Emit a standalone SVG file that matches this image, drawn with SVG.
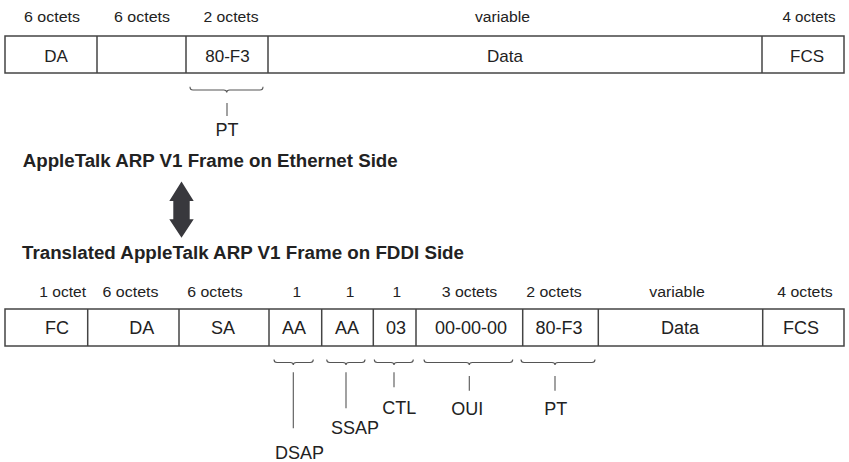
<svg xmlns="http://www.w3.org/2000/svg" width="849" height="462" viewBox="0 0 849 462">
<style>
text{font-family:"Liberation Sans",Arial,sans-serif;fill:#222;text-anchor:middle}
.hd{font-size:15.5px}
.lb{font-size:18px}
.lt{font-size:17px}
.sub{font-size:18px}
.title{font-size:18px;font-weight:bold;text-anchor:start}
.box{fill:#fff;stroke:#444;stroke-width:1.5}
.div{stroke:#444;stroke-width:1.5}
.brace{fill:none;stroke:#555;stroke-width:1.1}
.lead{stroke:#555;stroke-width:1.1}
</style>
<rect width="849" height="462" fill="#fff"/>

<g id="ethernet-frame">
  <rect class="box" x="5" y="36" width="839" height="37"/>
  <line class="div" x1="97" y1="36" x2="97" y2="73"/>
  <line class="div" x1="186" y1="36" x2="186" y2="73"/>
  <line class="div" x1="268" y1="36" x2="268" y2="73"/>
  <line class="div" x1="762" y1="36" x2="762" y2="73"/>
  <text class="hd" x="52" y="22" textLength="56" lengthAdjust="spacingAndGlyphs">6 octets</text>
  <text class="hd" x="142" y="22" textLength="56" lengthAdjust="spacingAndGlyphs">6 octets</text>
  <text class="hd" x="231" y="22" textLength="55" lengthAdjust="spacingAndGlyphs">2 octets</text>
  <text class="hd" x="502.5" y="22" textLength="55" lengthAdjust="spacingAndGlyphs">variable</text>
  <text class="hd" x="809" y="22" textLength="53" lengthAdjust="spacingAndGlyphs">4 octets</text>
  <text class="lt" x="56" y="62">DA</text>
  <text class="lt" x="227.5" y="62">80-F3</text>
  <text class="lt" x="505" y="62">Data</text>
  <text class="lt" x="807" y="62">FCS</text>
</g>

<g id="eth-pt">
  <path class="brace" d="M190,86.7 Q190,90 193,90 L223.7,90 Q226.7,90 226.7,92.5 Q226.7,90 229.7,90 L260,90 Q263,90 263,86.7"/>
  <line class="lead" x1="227" y1="103" x2="227" y2="116"/>
  <text class="sub" x="227" y="136">PT</text>
</g>

<g id="title-ethernet">
  <text class="title" x="22.7" y="167" textLength="375" lengthAdjust="spacingAndGlyphs">AppleTalk ARP V1 Frame on Ethernet Side</text>
</g>

<g id="arrow">
  <polygon fill="#38383d" points="181.5,181.5 193.7,201 189.7,201 189.7,219.3 193.7,219.3 181.5,237.7 169.3,219.3 173.3,219.3 173.3,201 169.3,201"/>
</g>

<g id="title-fddi">
  <text class="title" x="22" y="259" textLength="442" lengthAdjust="spacingAndGlyphs">Translated AppleTalk ARP V1 Frame on FDDI Side</text>
</g>

<g id="fddi-frame">
  <rect class="box" x="5" y="309" width="839" height="37"/>
  <line class="div" x1="87.7" y1="309" x2="87.7" y2="346"/>
  <line class="div" x1="179" y1="309" x2="179" y2="346"/>
  <line class="div" x1="269" y1="309" x2="269" y2="346"/>
  <line class="div" x1="321.7" y1="309" x2="321.7" y2="346"/>
  <line class="div" x1="373.3" y1="309" x2="373.3" y2="346"/>
  <line class="div" x1="416" y1="309" x2="416" y2="346"/>
  <line class="div" x1="522.7" y1="309" x2="522.7" y2="346"/>
  <line class="div" x1="598.3" y1="309" x2="598.3" y2="346"/>
  <line class="div" x1="762.7" y1="309" x2="762.7" y2="346"/>
  <text class="hd" x="62.7" y="297" textLength="46.7" lengthAdjust="spacingAndGlyphs">1 octet</text>
  <text class="hd" x="130.5" y="297" textLength="56" lengthAdjust="spacingAndGlyphs">6 octets</text>
  <text class="hd" x="215" y="297" textLength="55.5" lengthAdjust="spacingAndGlyphs">6 octets</text>
  <text class="hd" x="296.7" y="297">1</text>
  <text class="hd" x="350" y="297">1</text>
  <text class="hd" x="396.7" y="297">1</text>
  <text class="hd" x="469.5" y="297" textLength="55.6" lengthAdjust="spacingAndGlyphs">3 octets</text>
  <text class="hd" x="554" y="297" textLength="55.6" lengthAdjust="spacingAndGlyphs">2 octets</text>
  <text class="hd" x="677" y="297" textLength="55.6" lengthAdjust="spacingAndGlyphs">variable</text>
  <text class="hd" x="805" y="297" textLength="55.4" lengthAdjust="spacingAndGlyphs">4 octets</text>
  <text class="lb" x="57" y="334">FC</text>
  <text class="lb" x="141.7" y="334">DA</text>
  <text class="lb" x="223" y="334">SA</text>
  <text class="lb" x="294" y="334">AA</text>
  <text class="lb" x="347" y="334">AA</text>
  <text class="lb" x="396" y="334">03</text>
  <text class="lb" x="471" y="334">00-00-00</text>
  <text class="lb" x="559" y="334">80-F3</text>
  <text class="lb" x="680" y="334">Data</text>
  <text class="lb" x="801" y="334">FCS</text>
</g>

<g id="connectors">
  <path class="brace" d="M274,359.5 Q274,362.5 277,362.5 L290.3,362.5 Q293.3,362.5 293.3,365 Q293.3,362.5 296.3,362.5 L310.3,362.5 Q313.3,362.5 313.3,359.5"/>
  <path class="brace" d="M326.7,359.5 Q326.7,362.5 329.7,362.5 L343,362.5 Q346,362.5 346,365 Q346,362.5 349,362.5 L362,362.5 Q365,362.5 365,359.5"/>
  <path class="brace" d="M374.3,359.5 Q374.3,362.5 377.3,362.5 L391,362.5 Q394,362.5 394,365 Q394,362.5 397,362.5 L410.3,362.5 Q413.3,362.5 413.3,359.5"/>
  <path class="brace" d="M424,359.5 Q424,362.5 427,362.5 L466.3,362.5 Q469.3,362.5 469.3,365 Q469.3,362.5 472.3,362.5 L509.7,362.5 Q512.7,362.5 512.7,359.5"/>
  <path class="brace" d="M521,359.5 Q521,362.5 524,362.5 L552,362.5 Q555,362.5 555,365 Q555,362.5 558,362.5 L592,362.5 Q595,362.5 595,359.5"/>
  <line class="lead" x1="293.3" y1="372.3" x2="293.3" y2="428.3"/>
  <line class="lead" x1="346" y1="372.3" x2="346" y2="408.3"/>
  <line class="lead" x1="394" y1="372.3" x2="394" y2="387.3"/>
  <line class="lead" x1="469.3" y1="376" x2="469.3" y2="390.7"/>
  <line class="lead" x1="555" y1="376" x2="555" y2="390.7"/>
</g>

<g id="fddi-labels">
  <text class="sub" x="299.5" y="459.3">DSAP</text>
  <text class="sub" x="355" y="434">SSAP</text>
  <text class="sub" x="399.2" y="414">CTL</text>
  <text class="sub" x="467.2" y="415">OUI</text>
  <text class="sub" x="555.8" y="415">PT</text>
</g>
</svg>
